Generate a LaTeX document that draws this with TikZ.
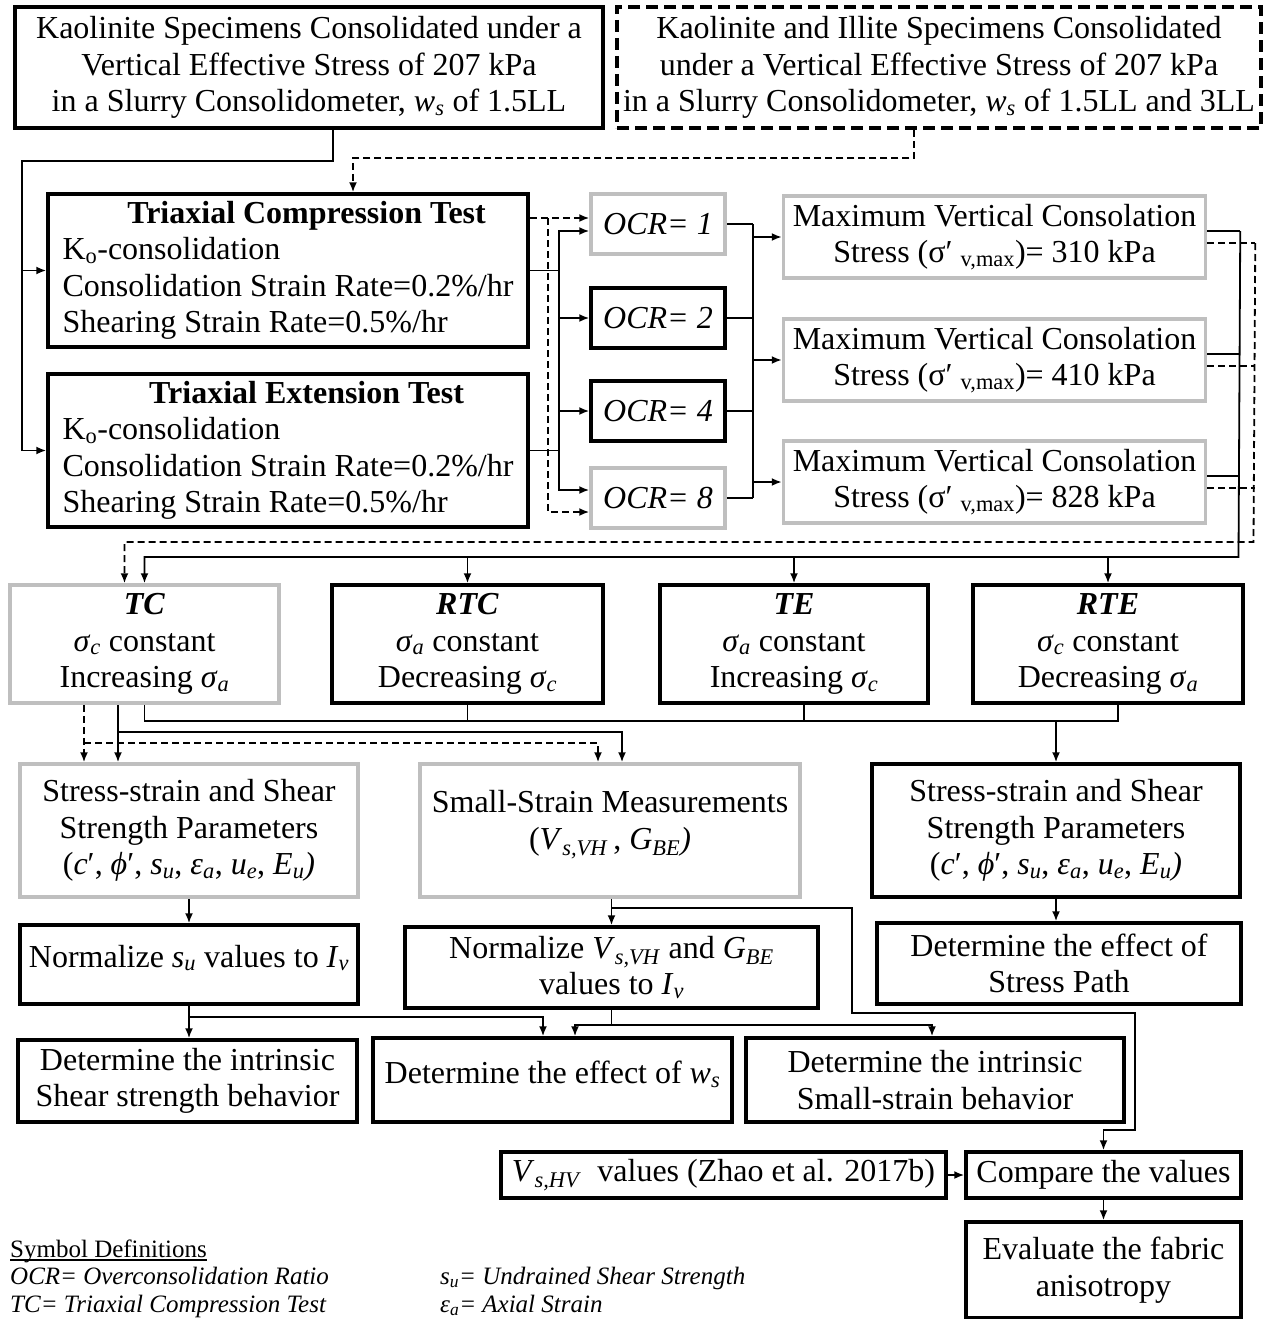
\documentclass[tikz,border=0pt]{standalone}
\usepackage{fontspec}
\setmainfont{Liberation Serif}
\usetikzlibrary{arrows.meta}
\newcommand{\isub}[2]{\textit{#1}\textsubscript{\textit{#2}}}

\begin{document}
\begin{tikzpicture}[x=1pt,y=-1pt,
  sz/.style 2 args={minimum width=#1pt,minimum height=#2pt},
  box/.style={draw,line width=3.5pt,inner sep=0pt,align=center,font=\fontsize{32}{36.5}\selectfont},
  gbox/.style={box,draw=black!25},
  dbox/.style={box,dash pattern=on 12pt off 6pt},
  line/.style={line width=1.8pt},
  conn/.style={line,-{Latex[length=10pt,width=8pt]}},
  dline/.style={line,dash pattern=on 7pt off 4pt},
  dconn/.style={conn,dash pattern=on 7pt off 4pt},
  lgd/.style={anchor=base west,inner sep=0pt,font=\fontsize{25}{28}\selectfont\itshape}]
\useasboundingbox (0,0) rectangle (1267,1319);

\node[box,sz={588}{121}] (kaol) at (309,67.5) {Kaolinite Specimens Consolidated under a\\Vertical Effective Stress of 207 kPa\\in a Slurry Consolidometer, \isub{w}{s} of 1.5LL};
\node[dbox,sz={644}{121}] (kaolill) at (939,67.5) {Kaolinite and Illite Specimens Consolidated\\under a Vertical Effective Stress of 207 kPa\\in a Slurry Consolidometer, \isub{w}{s} of 1.5LL and 3LL};

\node[box,sz={480}{153},align=left] (trxc) at (288,270.5) {\makebox[450pt]{\hspace{38pt}\textbf{Triaxial Compression Test}}\\K\textsubscript{o}-consolidation\\Consolidation Strain Rate=0.2\%/hr\\Shearing Strain Rate=0.5\%/hr};
\node[box,sz={480}{153},align=left] (trxe) at (288,450.5) {\makebox[450pt]{\hspace{38pt}\textbf{Triaxial Extension Test}}\\K\textsubscript{o}-consolidation\\Consolidation Strain Rate=0.2\%/hr\\Shearing Strain Rate=0.5\%/hr};

\node[gbox,sz={134}{60}] (ocr1) at (658,224) {\textit{OCR= 1}};
\node[box,sz={134}{60}] (ocr2) at (658,318) {\textit{OCR= 2}};
\node[box,sz={134}{60}] (ocr4) at (658,411) {\textit{OCR= 4}};
\node[gbox,sz={134}{60}] (ocr8) at (658,498) {\textit{OCR= 8}};

\node[gbox,sz={422}{82}] (mv1) at (994.5,237) {Maximum Vertical Consolation\\Stress (σ′ \textsubscript{v,max})= 310 kPa};
\node[gbox,sz={422}{82}] (mv2) at (994.5,360) {Maximum Vertical Consolation\\Stress (σ′ \textsubscript{v,max})= 410 kPa};
\node[gbox,sz={422}{82}] (mv3) at (994.5,482) {Maximum Vertical Consolation\\Stress (σ′ \textsubscript{v,max})= 828 kPa};

\node[gbox,sz={269}{118}] (stc) at (144.5,644) {\textbf{\textit{TC}}\\\isub{σ}{c} constant\\Increasing \isub{σ}{a}};
\node[box,sz={271}{118}] (srtc) at (467.5,644) {\textbf{\textit{RTC}}\\\isub{σ}{a} constant\\Decreasing \isub{σ}{c}};
\node[box,sz={268}{118}] (ste) at (794,644) {\textbf{\textit{TE}}\\\isub{σ}{a} constant\\Increasing \isub{σ}{c}};
\node[box,sz={270}{118}] (srte) at (1108,644) {\textbf{\textit{RTE}}\\\isub{σ}{c} constant\\Decreasing \isub{σ}{a}};

\node[gbox,sz={338}{133}] (ssl) at (189,830.5) {Stress-strain and Shear\\Strength Parameters\\(\textit{c}′, \textit{ϕ}′, \isub{s}{u}, \isub{ε}{a}, \isub{u}{e}, \isub{E}{u}\textit{)}};
\node[gbox,sz={380}{133}] (small) at (610,830.5) {Small-Strain Measurements\\(\isub{V}{s,VH}\,, \isub{G}{BE}\textit{)}\\[-15.5pt]\mbox{}};
\node[box,sz={368}{133}] (ssr) at (1056,830.5) {Stress-strain and Shear\\Strength Parameters\\(\textit{c}′, \textit{ϕ}′, \isub{s}{u}, \isub{ε}{a}, \isub{u}{e}, \isub{E}{u}\textit{)}};

\node[box,sz={338}{79}] (normsu) at (189,964.5) {Normalize \isub{s}{u} values to \isub{I}{v}\\[-19.5pt]\mbox{}};
\node[box,sz={413}{81}] (normvs) at (611.5,967.5) {Normalize \isub{V}{s,VH} and \isub{G}{BE}\\values to \isub{I}{v}};
\node[box,sz={364}{81}] (effsp) at (1059,963.5) {Determine the effect of\\Stress Path};

\node[box,sz={339}{82}] (intsh) at (187.5,1081) {Determine the intrinsic\\Shear strength behavior};
\node[box,sz={359}{84}] (effws) at (552.5,1080) {Determine the effect of \isub{w}{s}\\[-20.5pt]\mbox{}};
\node[box,sz={378}{84}] (intss) at (935,1080) {Determine the intrinsic\\Small-strain behavior};

\node[box,sz={445}{46}] (vshv) at (723.5,1175) {\isub{V}{s,HV}\ \ values (Zhao et al. 2017b)};
\node[box,sz={275}{46}] (cmp) at (1103.5,1175) {Compare the values};
\node[box,sz={275}{96}] (eval) at (1103.5,1270) {Evaluate the fabric\\anisotropy};

\node[lgd,font=\fontsize{25}{28}\selectfont] (symdef) at (10,1257) {Symbol Definitions};
\draw[line width=1.2pt] ([yshift=-3pt]symdef.base west) -- ([yshift=-3pt]symdef.base east);
\node[lgd] (ocrdef) at (10,1284) {OCR= Overconsolidation Ratio};
\node[lgd] (tcdef) at (10,1312) {TC= Triaxial Compression Test};
\node[lgd] (sudef) at (440,1284) {s\textsubscript{u}= Undrained Shear Strength};
\node[lgd] (eadef) at (440,1312) {ε\textsubscript{a}= Axial Strain};

\coordinate (k1) at (22,161);
\draw[conn] ([xshift=24pt]kaol.south) |- (k1) |- (trxc.west);
\draw[conn] (k1) |- (trxe.west);
\draw[dconn] ([xshift=-25pt]kaolill.south) |- (353,158) -- ([xshift=65pt]trxc.north);

\coordinate (b1) at (559,231);
\coordinate (b8) at (559,490);
\draw[line] (trxc.east) -- (trxc.east -| b1);
\draw[line] (trxe.east) -- (trxe.east -| b1);
\draw[conn] (b8) -- (b1) -- (b1 -| ocr1.west);
\draw[conn] (b1) -- (b8) -- (b8 -| ocr8.west);
\foreach \o in {ocr2,ocr4} \draw[conn] (\o.west -| b1) -- (\o.west);
\coordinate (d1) at (548,218);
\coordinate (d8) at (548,512);
\draw[dconn] (d1 -| trxc.east) -- (d1 -| ocr1.west);
\draw[dconn] (d1) -- (d8) -- (d8 -| ocr8.west);

\coordinate (m1) at (753,224);
\coordinate (m8) at (753,498);
\foreach \o in {ocr1,ocr2,ocr4,ocr8} \draw[line] (\o.east) -- (\o.east -| m1);
\draw[line] (m1) -- (m8);
\foreach \m in {mv1,mv2,mv3} \draw[conn] (\m.west -| m1) -- (\m.west);

\coordinate (s0) at (1238.5,557);
\coordinate (t0) at (1253.5,542);
\foreach \m in {mv1,mv2,mv3}{
  \draw[line] ([yshift=6pt]\m.east) -- ++(33,0);
  \draw[dline] ([yshift=-6pt]\m.east) -- ++(48,0);
}
\draw[conn] ([yshift=6pt]mv1.east) ++(33,0) -- (s0) -| (stc.north);
\draw[dconn] ([yshift=-6pt]mv1.east) ++(48,0) -- (t0) -| ([xshift=-20pt]stc.north);
\foreach \n in {srtc,ste,srte} \draw[conn] (\n.north |- s0) -- (\n.north);

\coordinate (u0) at (144.5,721);
\coordinate (te0) at ([xshift=10pt]ste.south);
\coordinate (rte0) at ([xshift=10pt]srte.south);
\draw[line] (stc.south) -- (u0) -- (u0 -| rte0) -- (rte0);
\draw[line] (srtc.south) -- (srtc.south |- u0);
\draw[line] (te0) -- (te0 |- u0);
\draw[conn] (ssr.north |- u0) -- (ssr.north);

\coordinate (v1) at (118,732);
\coordinate (w1) at (84,743);
\draw[conn] (v1 |- stc.south) -- (v1 |- ssl.north);
\draw[conn] (v1) -| ([xshift=12pt]small.north);
\draw[dconn] (w1 |- stc.south) -- (w1 |- ssl.north);
\draw[dconn] (w1) -| ([xshift=-12pt]small.north);

\draw[conn] (ssl.south) -- (normsu.north);
\draw[conn] (normvs.north |- small.south) -- (normvs.north);
\coordinate (p1) at (611.5,908);
\coordinate (p2) at (852,1013);
\coordinate (p3) at (1135,1130);
\draw[conn] (p1) -| (p2) -| (p3) -| (cmp.north);
\draw[conn] (ssr.south) -- (ssr.south |- effsp.north);

\coordinate (q1) at (189,1017);
\coordinate (q2) at (611.5,1025);
\coordinate (e1) at ([xshift=-9.5pt]effws.north);
\coordinate (e2) at ([xshift=22.5pt]effws.north);
\draw[conn] (normsu.south) -- (normsu.south |- intsh.north);
\draw[conn] (normsu.south) |- (e1 |- q1) -- (e1);
\draw[line] (normvs.south) -- (q2);
\draw[conn] (q2) -| (e2);
\draw[conn] (q2) -| ([xshift=-3pt]intss.north);

\draw[conn] (vshv) -- (cmp);
\draw[conn] (cmp) -- (eval);
\end{tikzpicture}
\end{document}
